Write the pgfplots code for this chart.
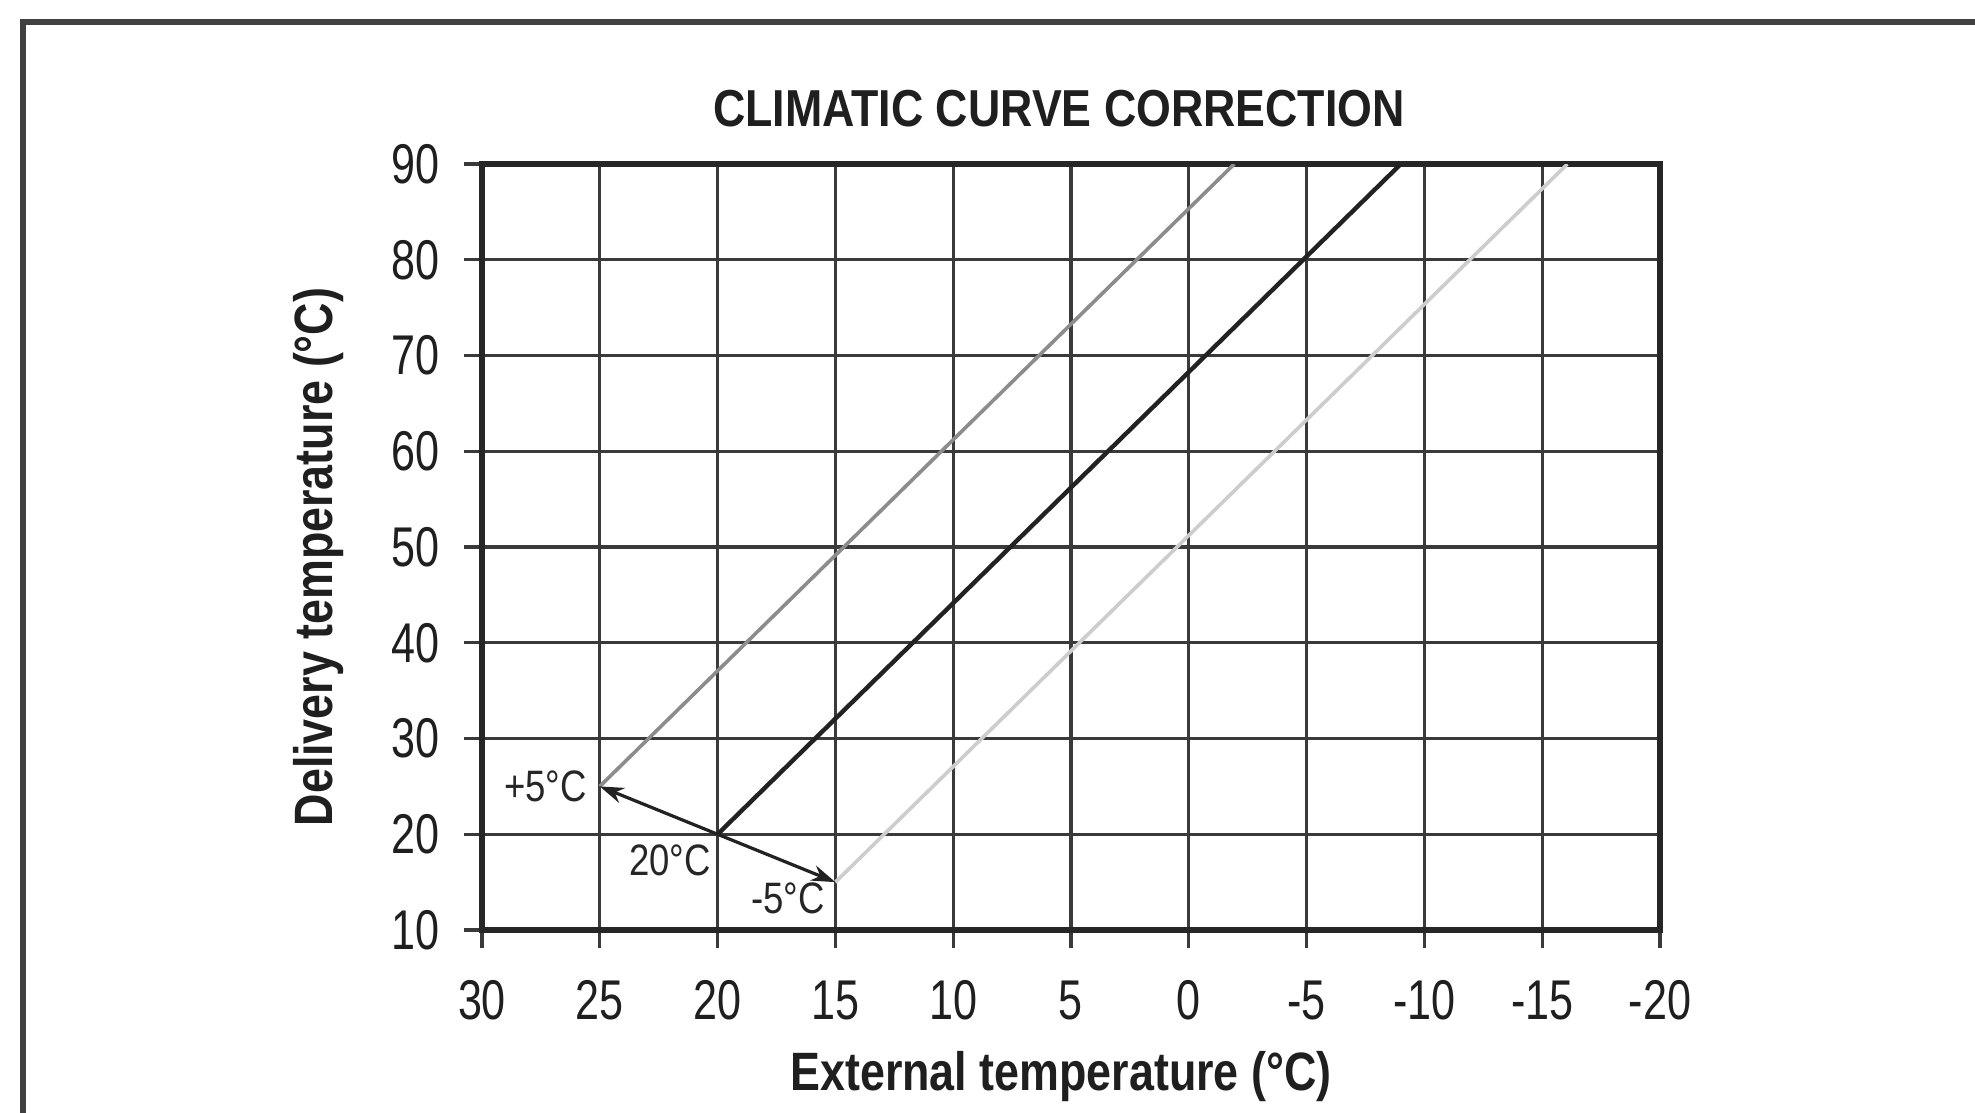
\documentclass[border=0pt]{standalone}
\usepackage{fontspec}
\setmainfont{Liberation Sans}[FakeStretch=0.83]
\newfontfamily\tickfont{Liberation Sans}[FakeStretch=0.77]
\newfontfamily\titlefont{Liberation Sans}[FakeStretch=0.86]
\usepackage{pgfplots}
\pgfplotsset{compat=1.18}
\usetikzlibrary{arrows.meta}
\definecolor{gridc}{HTML}{3A3A3A}
\definecolor{darkline}{HTML}{222222}
\definecolor{midline}{HTML}{8C8C8C}
\definecolor{lightline}{HTML}{CDCDCD}
\begin{document}
\begin{tikzpicture}
\useasboundingbox (0,0) rectangle (493.75pt,-278.25pt);
\fill[white] (0,0) rectangle (493.75pt,-278.25pt);
\draw[line width=1.3pt, color=black!75] (5.75pt,-280pt) -- (5.75pt,-5.5pt) -- (495pt,-5.5pt);
\begin{axis}[
  at={(120.5pt,-232.5pt)}, anchor=south west,
  scale only axis, width=294.5pt, height=191.5pt,
  x dir=reverse,
  xmin=-20, xmax=30, ymin=10, ymax=90,
  xtick={-20,-15,...,30}, ytick={10,20,...,90},
  xtick pos=bottom, ytick pos=left,
  tick align=outside, major tick length=4.6pt,
  tick style={line width=0.8pt, color=gridc},
  grid=major,
  major grid style={line width=0.8pt, color=gridc},
  axis line style={line width=1.3pt, color=black!85},
  /pgf/number format/assume math mode=true,
  ticklabel style={font=\tickfont\fontsize{14}{16}\selectfont, text=black!88},
  xticklabel style={yshift=-4.5pt},
  yticklabel style={xshift=-2.5pt},
  title={\textbf{CLIMATIC CURVE CORRECTION}},
  title style={font=\titlefont\fontsize{13}{15}\selectfont, at={(axis description cs:0.5,1)}, anchor=base, yshift=3.3pt, xshift=-3pt, text=black!88},
  xlabel={\textbf{External temperature (°C)}},
  ylabel={\textbf{Delivery temperature (°C)}},
  label style={font=\fontsize{13.5}{16}\selectfont, text=black!88},
  xlabel style={at={(axis description cs:0.5,0)}, anchor=base, yshift=-40pt, xshift=-2.5pt},
  ylabel style={at={([xshift=-40.75pt,yshift=-2.5pt]axis description cs:0,0.5)}, anchor=center},
  clip=true,
]
\addplot[line width=0.9pt, color=lightline] coordinates {(15,15) (-16.07,90)};
\addplot[line width=0.9pt, color=midline] coordinates {(25,25) (-1.93,90)};
\addplot[line width=1.1pt, color=darkline] coordinates {(20,20) (-9,90)};
\addplot[line width=0.8pt, color=darkline, -{Stealth[length=6pt,width=4pt]}] coordinates {(20,20) (25,25)};
\addplot[line width=0.8pt, color=darkline, -{Stealth[length=6pt,width=4pt]}] coordinates {(20,20) (15,15)};
\node[anchor=east, font=\fontsize{11}{13}\selectfont, text=black!85, inner sep=0pt, xshift=-3pt] at (axis cs:25,25) {+5°C};
\node[anchor=north east, font=\fontsize{11}{13}\selectfont, text=black!85, inner sep=0pt, xshift=-1.5pt, yshift=-2.5pt] at (axis cs:20,20) {20°C};
\node[anchor=north east, font=\fontsize{11}{13}\selectfont, text=black!85, inner sep=0pt, xshift=-2.5pt, yshift=0pt] at (axis cs:15,15) {-5°C};
\end{axis}
\end{tikzpicture}
\end{document}
